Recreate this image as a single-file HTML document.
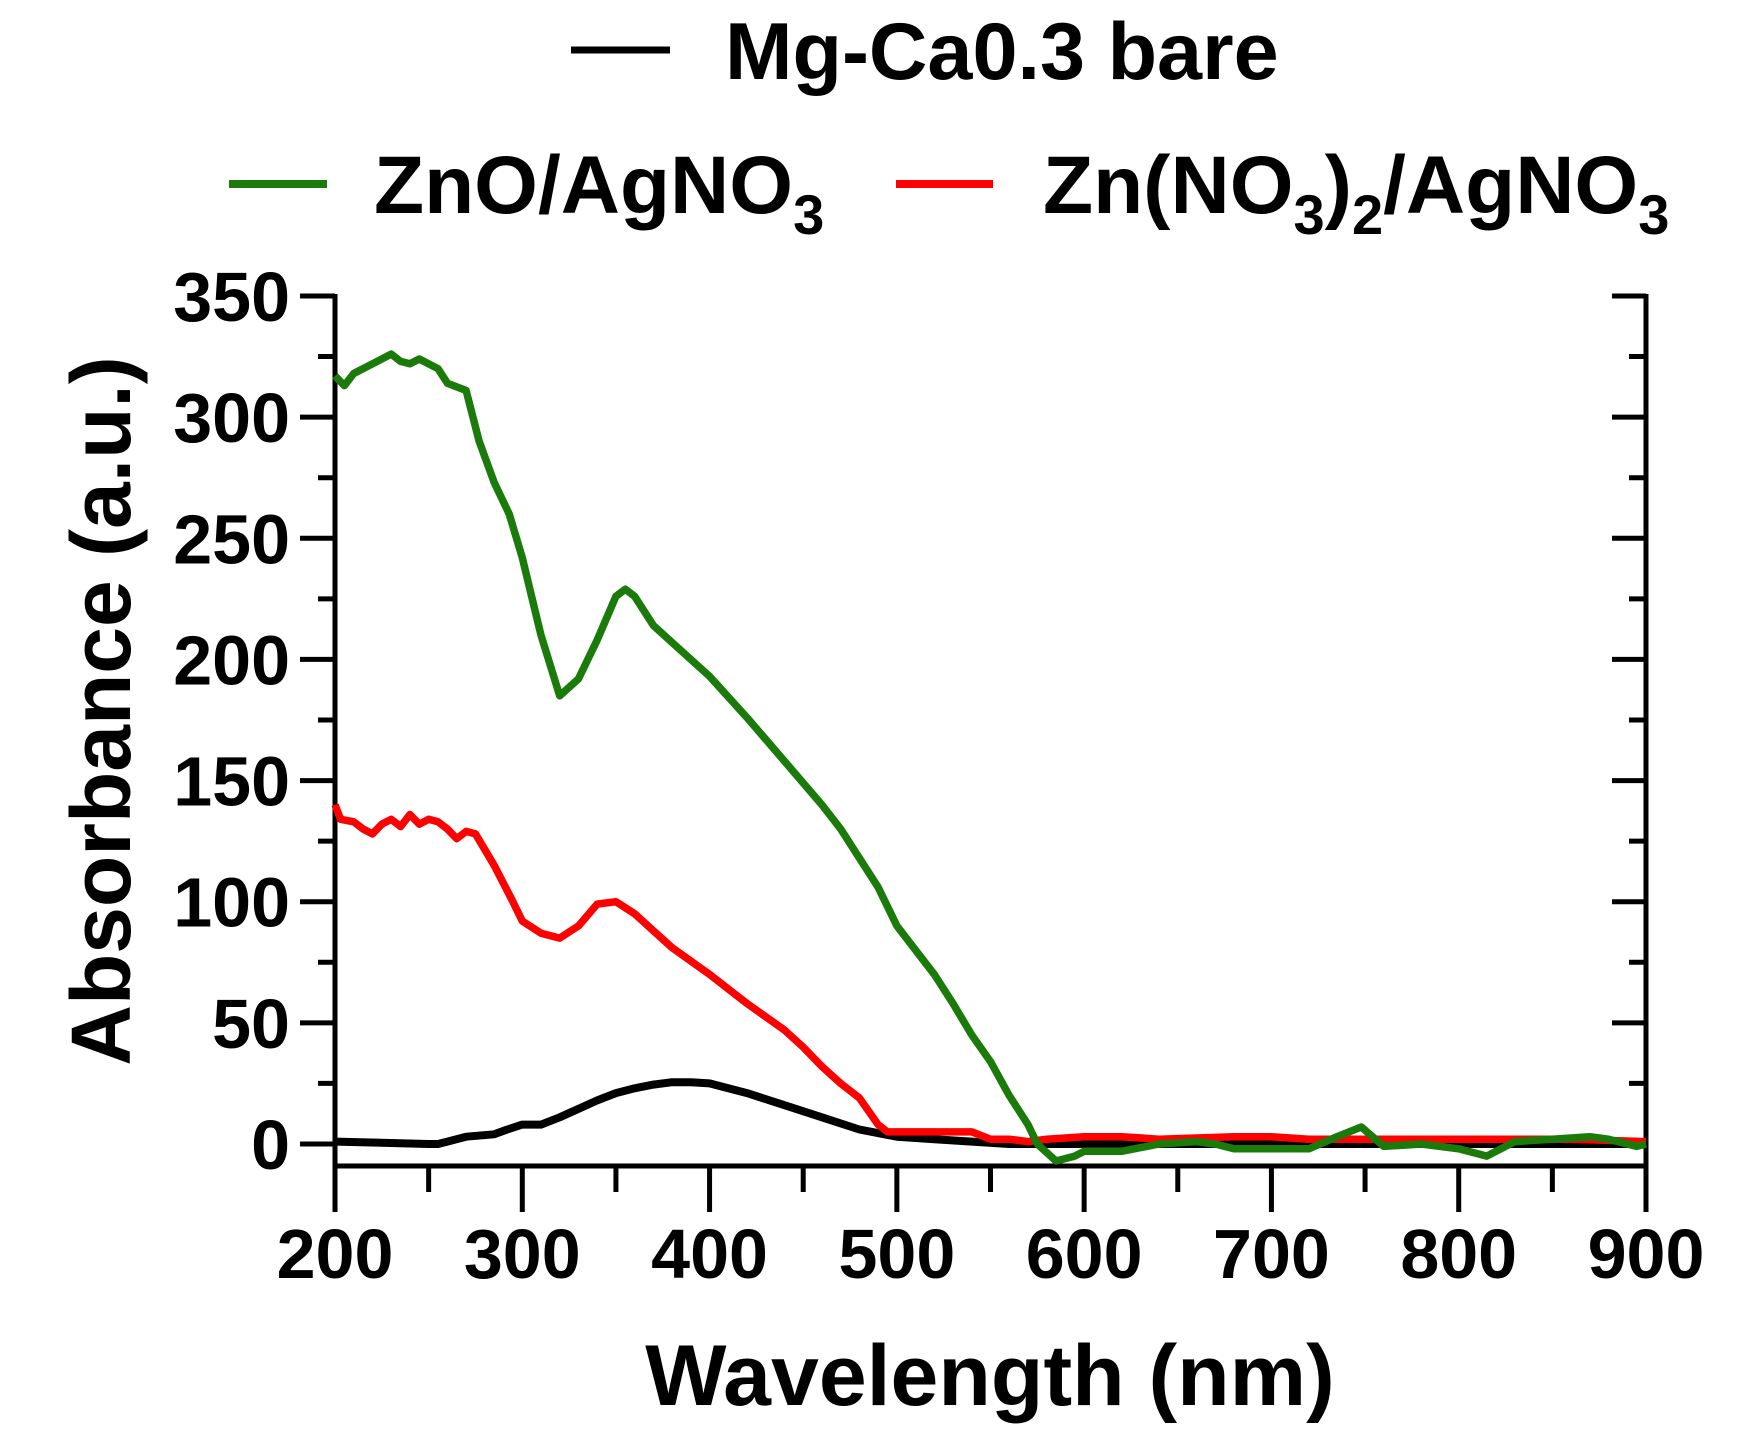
<!DOCTYPE html>
<html><head><meta charset="utf-8"><style>
html,body{margin:0;padding:0;background:#fff}
svg text{font-family:"Liberation Sans",Arial,sans-serif;font-weight:bold;fill:#000}
</style></head><body>
<svg width="1741" height="1449" viewBox="0 0 1741 1449" xmlns="http://www.w3.org/2000/svg">
<line x1="571" y1="50" x2="670" y2="50" stroke="#000" stroke-width="7"/>
<text x="725" y="79" font-size="81">Mg-Ca0.3 bare</text>
<line x1="229" y1="184" x2="327" y2="184" stroke="#1a7a0a" stroke-width="8"/>
<text x="374" y="213" font-size="82">ZnO/AgNO<tspan font-size="56" dy="21">3</tspan></text>
<line x1="896" y1="184" x2="993" y2="184" stroke="#ff0000" stroke-width="8"/>
<text x="1043" y="213" font-size="82">Zn(NO<tspan font-size="56" dy="21">3</tspan><tspan dy="-21">)</tspan><tspan font-size="56" dy="21">2</tspan><tspan dy="-21">/AgNO</tspan><tspan font-size="56" dy="21">3</tspan></text>

<g stroke="#000" stroke-width="5" fill="none">
<line x1="335" y1="294" x2="335" y2="1168"/>
<line x1="1646" y1="294" x2="1646" y2="1168"/>
<line x1="333" y1="1166" x2="1648" y2="1166"/>
</g>
<g id="ticks" stroke="#000" stroke-width="5"></g>
<g id="labels"></g>

<text transform="translate(130,711) rotate(-90)" text-anchor="middle" font-size="84">Absorbance (a.u.)</text>
<text x="990" y="1405" text-anchor="middle" font-size="86">Wavelength (nm)</text>

<g fill="none" stroke-width="7.5" stroke-linejoin="round">
<polyline id="blk" stroke="#000" stroke-width="8"/>
<polyline id="red" stroke="#ff0000"/>
<polyline id="grn" stroke="#1a7a0a"/>
</g>
</svg>
<script>
var NS="http://www.w3.org/2000/svg";
function X(w){return 335+(w-200)*1311/700}
function Y(a){return 1144-a*2.4229}
var t=document.getElementById('ticks'),L=document.getElementById('labels');
function ln(x1,y1,x2,y2){var e=document.createElementNS(NS,'line');e.setAttribute('x1',x1);e.setAttribute('y1',y1);e.setAttribute('x2',x2);e.setAttribute('y2',y2);t.appendChild(e)}
function tx(x,y,s,a){var e=document.createElementNS(NS,'text');e.setAttribute('x',x);e.setAttribute('y',y);e.setAttribute('font-size','70');e.setAttribute('text-anchor',a);e.textContent=s;L.appendChild(e)}
for(var v=0;v<=350;v+=25){var y=Y(v),maj=v%50==0;ln(maj?300:318,y,335,y);ln(1646,y,maj?1612:1629,y);if(maj)tx(290,y+25,v,'end')}
for(var w=200;w<=900;w+=50){var x=X(w),maj=w%100==0;ln(x,1166,x,maj?1212:1192);if(maj)tx(x,1278,w,'middle')}
function pl(id,d){var p=[];for(var i=0;i<d.length;i+=2)p.push(X(d[i]).toFixed(1)+','+Y(d[i+1]).toFixed(1));document.getElementById(id).setAttribute('points',p.join(' '))}
pl('blk',[200,1,250,0,255,0,260,1,270,3,285,4,292,6,300,8,310,8,320,11,340,18,350,21,360,23,370,24.5,380,25.5,390,25.5,400,25,420,21,440,16,460,11,480,6,500,3,520,2,540,1,560,0,900,0]);
pl('red',[200,140,203,134,210,133,215,130,220,128,225,132,230,134,235,131,240,136,245,132,250,134,255,133,260,130,265,126,270,129,275,128,285,115,295,100,300,92,310,87,320,85,330,90,340,99,350,100,360,95,370,88,380,81,400,70,420,58,440,47,450,40,460,32,470,25,480,19,490,8,495,5,520,5,540,5,550,2,560,2,570,1,580,2,600,3,620,3,640,2,680,3,700,3,720,2,760,2,800,2,860,2,900,1]);
pl('grn',[200,317,205,313,210,318,220,322,230,326,235,323,240,322,245,324,255,320,260,314,270,311,277,290,285,273,293,260,300,242,310,210,320,185,330,192,340,208,350,226,355,229,360,226,370,214,380,207,390,200,400,193,420,176,440,158,460,140,470,130,480,118,490,106,500,90,510,80,520,70,530,58,540,45,550,34,560,20,570,8,575,0,585,-7,595,-5,600,-3,620,-3,640,0,660,1,670,0,680,-2,700,-2,720,-2,735,3,748,7,760,-1,780,0,800,-2,815,-5,830,1,850,2,870,3,880,2,895,-1,900,0]);
</script>
</body></html>
